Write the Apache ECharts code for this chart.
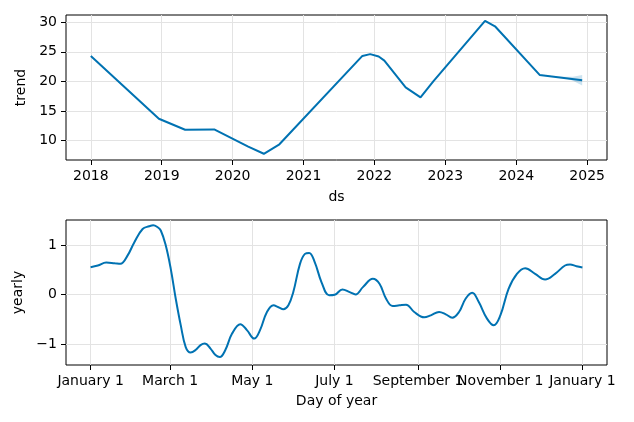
<!DOCTYPE html>
<html>
<head>
<meta charset="utf-8">
<script src="https://cdn.jsdelivr.net/npm/echarts@6/dist/echarts.min.js"></script>
<style>html,body{margin:0;padding:0;background:#fff}#c{width:634px;height:422px}</style>
</head>
<body>
<div id="c"></div>
<script>
// Trend (decimal year, value)
var trendYears = [2018.0, 2018.96, 2019.33, 2019.74, 2020.22, 2020.44, 2020.66, 2021.83, 2021.94, 2022.06, 2022.14, 2022.44, 2022.65, 2022.83, 2023.56, 2023.70, 2024.33, 2024.93];
var trendValues = [24.3, 13.7, 11.85, 11.9, 9.0, 7.8, 9.4, 24.3, 24.6, 24.2, 23.5, 19.0, 17.3, 20.0, 30.2, 29.3, 21.1, 20.2];
// Uncertainty band near the end
var bandYears = [2024.55, 2024.70, 2024.80, 2024.93];
var bandLower = [20.75, 20.5, 20.1, 19.3];
var bandUpper = [20.85, 20.8, 20.8, 21.1];
var yearTicks = [2018, 2019, 2020, 2021, 2022, 2023, 2024, 2025];
var trendTicks = [10, 15, 20, 25, 30];

// Yearly seasonality (day of year, value)
var yearlyDays = [0, 5.4, 11.6, 17.7, 22.1, 27.5, 32.4, 38.6, 43.5, 46.5, 49.5, 52.1, 55.8, 59.5, 63.2, 66.9, 70.6, 74.2, 77.9, 81.6, 84.8, 89, 92.7, 95.9, 100, 105, 111.1, 116, 121.4, 125.9, 130.8, 135.7, 139.4, 143.1, 146.8, 150.4, 155.4, 159.1, 162.2, 166.4, 171.4, 177, 181.2, 186.9, 192.3, 196.7, 202.1, 209.5, 214.4, 219.3, 224.2, 229.1, 234.1, 240.2, 247.6, 252.5, 258.6, 263.6, 268.4, 273.4, 278.3, 283.2, 288.1, 294.2, 299.2, 304.1, 310.2, 316.4, 322.5, 329.9, 337.3, 344.7, 352.1, 355.8, 360.6, 365];
var yearlyValues = [0.553, 0.587, 0.647, 0.633, 0.62, 0.79, 1.05, 1.32, 1.375, 1.395, 1.36, 1.29, 0.99, 0.52, -0.08, -0.61, -1.05, -1.16, -1.11, -1.01, -0.98, -1.08, -1.21, -1.25, -1.11, -0.78, -0.59, -0.71, -0.88, -0.70, -0.35, -0.21, -0.25, -0.29, -0.21, 0.05, 0.62, 0.82, 0.84, 0.65, 0.25, -0.01, 0.0, 0.107, 0.053, 0.007, 0.153, 0.32, 0.22, -0.08, -0.227, -0.213, -0.2, -0.347, -0.453, -0.413, -0.347, -0.393, -0.46, -0.347, -0.08, 0.04, -0.147, -0.48, -0.613, -0.413, 0.12, 0.42, 0.533, 0.42, 0.307, 0.42, 0.587, 0.607, 0.573, 0.547];
var dayTicks = [0, 59, 120, 181, 243, 304, 365];
var dayTickLabels = ['January 1', 'March 1', 'May 1', 'July 1', 'September 1', 'November 1', 'January 1'];
var yearlyTicks = [-1, 0, 1];

var FONT = 'DejaVu Sans';
var LINE = '#0072B2';
function zip(a, b) { return a.map(function (v, i) { return [v, b[i]]; }); }

var axisCommon = {
  axisLine: { show: false, onZero: false },
  axisTick: { show: true, inside: false, length: 5, lineStyle: { color: '#000', width: 1 } },
  axisLabel: { color: '#000', fontFamily: FONT, fontSize: 14, margin: 9 },
  splitLine: { show: true, lineStyle: { color: '#e3e3e3', width: 1 } },
  nameTextStyle: { color: '#000', fontFamily: FONT, fontSize: 14 },
  nameLocation: 'middle'
};
function ax(extra) {
  var o = JSON.parse(JSON.stringify(axisCommon));
  for (var k in extra) {
    if (typeof extra[k] === 'object' && !Array.isArray(extra[k]) && o[k]) {
      for (var j in extra[k]) o[k][j] = extra[k][j];
    } else o[k] = extra[k];
  }
  return o;
}

// band polygon: upper edge forward, lower edge backward
var bandData = bandYears.map(function (y, i) { return [y, bandLower[i], bandUpper[i]]; });

var chart = echarts.init(document.getElementById('c'), null, { renderer: 'canvas' });
chart.setOption({
  animation: false,
  backgroundColor: '#fff',
  grid: [
    { left: 66, right: 27, top: 15, height: 145, show: true, borderColor: '#000', borderWidth: 1, containLabel: false },
    { left: 66, right: 27, top: 220, height: 145, show: true, borderColor: '#000', borderWidth: 1, containLabel: false }
  ],
  xAxis: [
    ax({ type: 'value', gridIndex: 0, min: 2017.65, max: 2025.28, name: 'ds', nameGap: 30,
      axisTick: { customValues: yearTicks },
      axisLabel: { customValues: yearTicks, formatter: function (v) { return String(Math.round(v)); } } }),
    ax({ type: 'value', gridIndex: 1, min: -18.25, max: 383.25, name: 'Day of year', nameGap: 29,
      axisTick: { customValues: dayTicks },
      axisLabel: { customValues: dayTicks, formatter: function (v) { var i = dayTicks.indexOf(Math.round(v)); return i >= 0 ? dayTickLabels[i] : ''; } } })
  ],
  yAxis: [
    ax({ type: 'value', gridIndex: 0, min: 6.75, max: 31.2, name: 'trend', nameGap: 35,
      axisTick: { customValues: trendTicks },
      axisLabel: { customValues: trendTicks } }),
    ax({ type: 'value', gridIndex: 1, min: -1.41, max: 1.5, name: 'yearly', nameGap: 36,
      axisTick: { customValues: yearlyTicks },
      axisLabel: { customValues: yearlyTicks, formatter: function (v) { return v < 0 ? '\u2212' + Math.abs(v) : String(v); } } })
  ],
  series: [
    { type: 'custom', xAxisIndex: 0, yAxisIndex: 0, data: [0], silent: true, z: 1,
      renderItem: function (params, api) {
        var pts = [];
        bandData.forEach(function (d) { pts.push(api.coord([d[0], d[2]])); });
        for (var i = bandData.length - 1; i >= 0; i--) pts.push(api.coord([bandData[i][0], bandData[i][1]]));
        return { type: 'polygon', shape: { points: pts }, style: { fill: 'rgba(0,114,178,0.2)' } };
      } },
    { type: 'line', xAxisIndex: 0, yAxisIndex: 0, data: zip(trendYears, trendValues), symbol: 'none', z: 3, lineStyle: { color: LINE, width: 2 } },
    { type: 'line', xAxisIndex: 1, yAxisIndex: 1, data: zip(yearlyDays, yearlyValues), symbol: 'none', smooth: 0.4, lineStyle: { color: LINE, width: 2 } }
  ]
});
</script>
</body>
</html>
